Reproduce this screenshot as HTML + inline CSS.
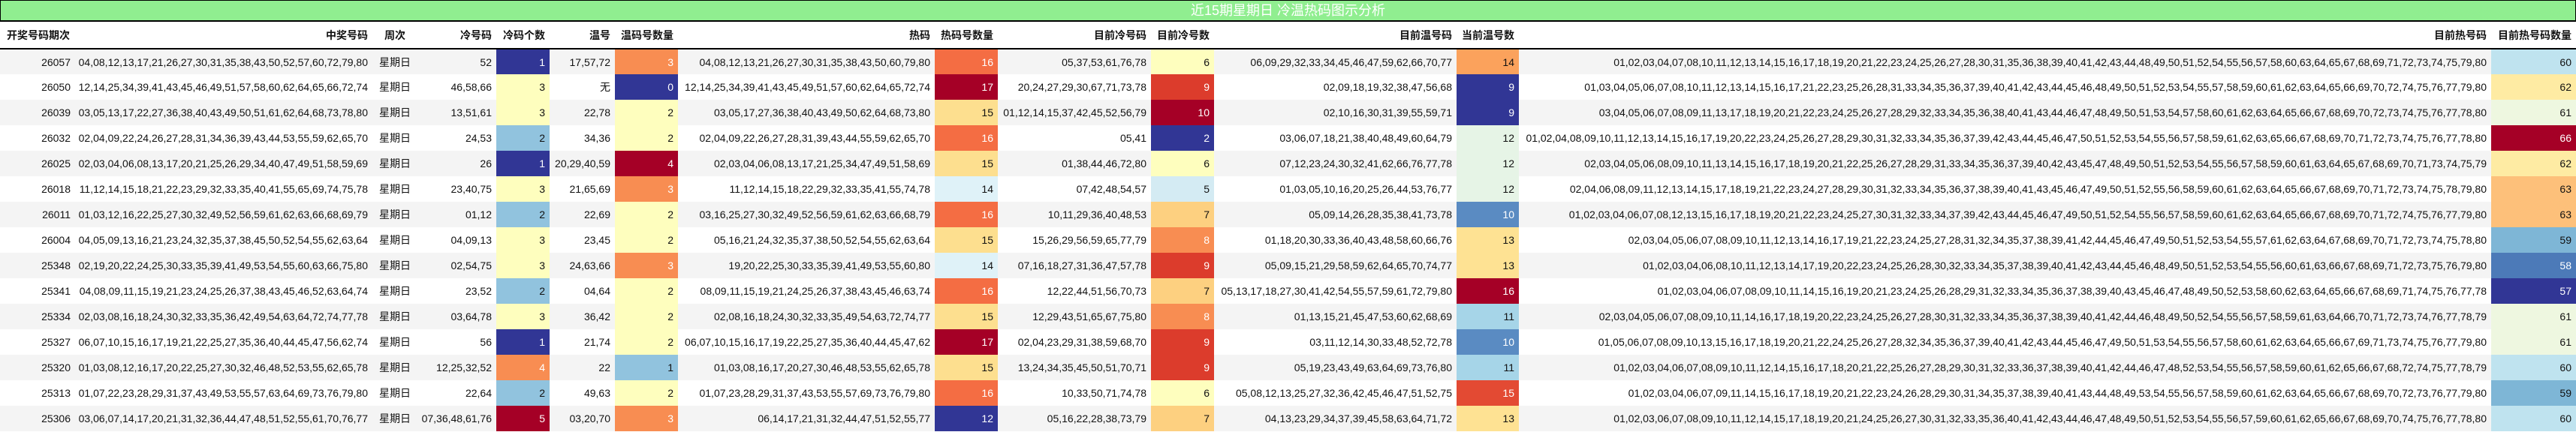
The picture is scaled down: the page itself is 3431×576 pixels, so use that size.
<!DOCTYPE html>
<html><head><meta charset="utf-8"><style>
*{margin:0;padding:0;box-sizing:border-box}
body{width:3431px;height:576px;background:#fff;font-family:"Liberation Sans","Noto Sans CJK SC",sans-serif;font-size:14px;color:#111;overflow:hidden}
.title{height:29px;background:#90ee90;border:1px solid #000;border-bottom:2px solid #000;color:#fff;text-align:center;font-size:18px;line-height:26px}
table{border-collapse:collapse;table-layout:fixed;width:3431px}
th{height:36px;font-weight:bold;text-align:right;padding-right:6px;border-bottom:2px solid #000;white-space:nowrap}
td{height:34px;text-align:right;padding-right:6px;white-space:nowrap;overflow:hidden}
tr:nth-child(odd) td{background:#f4f4f4}
tr:nth-child(even) td{background:#fff}
.l{text-align:left;padding-left:9px}.c{text-align:center;padding-right:0}
tr td.nv{background:#313695;color:#fff}
tr td.lb{background:#91c3de}
tr td.ly{background:#fefebe}
tr td.or{background:#f88d52;color:#fff}
tr td.dr{background:#a50026;color:#fff}
tr td.h14{background:#dff2f8}
tr td.h15{background:#fddf8f}
tr td.h16{background:#f46d43;color:#fff}
tr td.k5{background:#d4ebf3}
tr td.k7{background:#fdd080}
tr td.k9{background:#dc3c2c;color:#fff}
tr td.w10{background:#5a8bc2;color:#fff}
tr td.w11{background:#a6d5e8}
tr td.w12{background:#e6f4e6}
tr td.w13{background:#fee293}
tr td.w14{background:#fba25c}
tr td.w15{background:#e34a33;color:#fff}
tr td.t58{background:#4c7ab8;color:#fff}
tr td.t59{background:#7eb6d6}
tr td.t60{background:#bfe3ef}
tr td.t61{background:#eef7e0}
tr td.t62{background:#feeba3}
tr td.t63{background:#fdc07a}
</style></head><body>
<div class="title">近15期星期日 冷温热码图示分析</div>
<table>
<colgroup><col style="width:100px"><col style="width:396px"><col style="width:60px"><col style="width:105px"><col style="width:71px"><col style="width:87px"><col style="width:84px"><col style="width:342px"><col style="width:84px"><col style="width:204px"><col style="width:84px"><col style="width:323px"><col style="width:83px"><col style="width:1295px"><col style="width:113px"></colgroup>
<thead><tr><th class="l">开奖号码期次</th><th>中奖号码</th><th class="c">周次</th><th>冷号码</th><th>冷码个数</th><th>温号</th><th>温码号数量</th><th>热码</th><th>热码号数量</th><th>目前冷号码</th><th>目前冷号数</th><th>目前温号码</th><th>当前温号数</th><th>目前热号码</th><th>目前热号码数量</th></tr></thead>
<tbody>
<tr><td>26057</td><td>04,08,12,13,17,21,26,27,30,31,35,38,43,50,52,57,60,72,79,80</td><td class="c">星期日</td><td>52</td><td class="nv">1</td><td>17,57,72</td><td class="or">3</td><td>04,08,12,13,21,26,27,30,31,35,38,43,50,60,79,80</td><td class="h16">16</td><td>05,37,53,61,76,78</td><td class="ly">6</td><td>06,09,29,32,33,34,45,46,47,59,62,66,70,77</td><td class="w14">14</td><td>01,02,03,04,07,08,10,11,12,13,14,15,16,17,18,19,20,21,22,23,24,25,26,27,28,30,31,35,36,38,39,40,41,42,43,44,48,49,50,51,52,54,55,56,57,58,60,63,64,65,67,68,69,71,72,73,74,75,79,80</td><td class="t60">60</td></tr>
<tr><td>26050</td><td>12,14,25,34,39,41,43,45,46,49,51,57,58,60,62,64,65,66,72,74</td><td class="c">星期日</td><td>46,58,66</td><td class="ly">3</td><td>无</td><td class="nv">0</td><td>12,14,25,34,39,41,43,45,49,51,57,60,62,64,65,72,74</td><td class="dr">17</td><td>20,24,27,29,30,67,71,73,78</td><td class="k9">9</td><td>02,09,18,19,32,38,47,56,68</td><td class="nv">9</td><td>01,03,04,05,06,07,08,10,11,12,13,14,15,16,17,21,22,23,25,26,28,31,33,34,35,36,37,39,40,41,42,43,44,45,46,48,49,50,51,52,53,54,55,57,58,59,60,61,62,63,64,65,66,69,70,72,74,75,76,77,79,80</td><td class="t62">62</td></tr>
<tr><td>26039</td><td>03,05,13,17,22,27,36,38,40,43,49,50,51,61,62,64,68,73,78,80</td><td class="c">星期日</td><td>13,51,61</td><td class="ly">3</td><td>22,78</td><td class="ly">2</td><td>03,05,17,27,36,38,40,43,49,50,62,64,68,73,80</td><td class="h15">15</td><td>01,12,14,15,37,42,45,52,56,79</td><td class="dr">10</td><td>02,10,16,30,31,39,55,59,71</td><td class="nv">9</td><td>03,04,05,06,07,08,09,11,13,17,18,19,20,21,22,23,24,25,26,27,28,29,32,33,34,35,36,38,40,41,43,44,46,47,48,49,50,51,53,54,57,58,60,61,62,63,64,65,66,67,68,69,70,72,73,74,75,76,77,78,80</td><td class="t61">61</td></tr>
<tr><td>26032</td><td>02,04,09,22,24,26,27,28,31,34,36,39,43,44,53,55,59,62,65,70</td><td class="c">星期日</td><td>24,53</td><td class="lb">2</td><td>34,36</td><td class="ly">2</td><td>02,04,09,22,26,27,28,31,39,43,44,55,59,62,65,70</td><td class="h16">16</td><td>05,41</td><td class="nv">2</td><td>03,06,07,18,21,38,40,48,49,60,64,79</td><td class="w12">12</td><td>01,02,04,08,09,10,11,12,13,14,15,16,17,19,20,22,23,24,25,26,27,28,29,30,31,32,33,34,35,36,37,39,42,43,44,45,46,47,50,51,52,53,54,55,56,57,58,59,61,62,63,65,66,67,68,69,70,71,72,73,74,75,76,77,78,80</td><td class="dr">66</td></tr>
<tr><td>26025</td><td>02,03,04,06,08,13,17,20,21,25,26,29,34,40,47,49,51,58,59,69</td><td class="c">星期日</td><td>26</td><td class="nv">1</td><td>20,29,40,59</td><td class="dr">4</td><td>02,03,04,06,08,13,17,21,25,34,47,49,51,58,69</td><td class="h15">15</td><td>01,38,44,46,72,80</td><td class="ly">6</td><td>07,12,23,24,30,32,41,62,66,76,77,78</td><td class="w12">12</td><td>02,03,04,05,06,08,09,10,11,13,14,15,16,17,18,19,20,21,22,25,26,27,28,29,31,33,34,35,36,37,39,40,42,43,45,47,48,49,50,51,52,53,54,55,56,57,58,59,60,61,63,64,65,67,68,69,70,71,73,74,75,79</td><td class="t62">62</td></tr>
<tr><td>26018</td><td>11,12,14,15,18,21,22,23,29,32,33,35,40,41,55,65,69,74,75,78</td><td class="c">星期日</td><td>23,40,75</td><td class="ly">3</td><td>21,65,69</td><td class="or">3</td><td>11,12,14,15,18,22,29,32,33,35,41,55,74,78</td><td class="h14">14</td><td>07,42,48,54,57</td><td class="k5">5</td><td>01,03,05,10,16,20,25,26,44,53,76,77</td><td class="w12">12</td><td>02,04,06,08,09,11,12,13,14,15,17,18,19,21,22,23,24,27,28,29,30,31,32,33,34,35,36,37,38,39,40,41,43,45,46,47,49,50,51,52,55,56,58,59,60,61,62,63,64,65,66,67,68,69,70,71,72,73,74,75,78,79,80</td><td class="t63">63</td></tr>
<tr><td>26011</td><td>01,03,12,16,22,25,27,30,32,49,52,56,59,61,62,63,66,68,69,79</td><td class="c">星期日</td><td>01,12</td><td class="lb">2</td><td>22,69</td><td class="ly">2</td><td>03,16,25,27,30,32,49,52,56,59,61,62,63,66,68,79</td><td class="h16">16</td><td>10,11,29,36,40,48,53</td><td class="k7">7</td><td>05,09,14,26,28,35,38,41,73,78</td><td class="w10">10</td><td>01,02,03,04,06,07,08,12,13,15,16,17,18,19,20,21,22,23,24,25,27,30,31,32,33,34,37,39,42,43,44,45,46,47,49,50,51,52,54,55,56,57,58,59,60,61,62,63,64,65,66,67,68,69,70,71,72,74,75,76,77,79,80</td><td class="t63">63</td></tr>
<tr><td>26004</td><td>04,05,09,13,16,21,23,24,32,35,37,38,45,50,52,54,55,62,63,64</td><td class="c">星期日</td><td>04,09,13</td><td class="ly">3</td><td>23,45</td><td class="ly">2</td><td>05,16,21,24,32,35,37,38,50,52,54,55,62,63,64</td><td class="h15">15</td><td>15,26,29,56,59,65,77,79</td><td class="or">8</td><td>01,18,20,30,33,36,40,43,48,58,60,66,76</td><td class="w13">13</td><td>02,03,04,05,06,07,08,09,10,11,12,13,14,16,17,19,21,22,23,24,25,27,28,31,32,34,35,37,38,39,41,42,44,45,46,47,49,50,51,52,53,54,55,57,61,62,63,64,67,68,69,70,71,72,73,74,75,78,80</td><td class="t59">59</td></tr>
<tr><td>25348</td><td>02,19,20,22,24,25,30,33,35,39,41,49,53,54,55,60,63,66,75,80</td><td class="c">星期日</td><td>02,54,75</td><td class="ly">3</td><td>24,63,66</td><td class="or">3</td><td>19,20,22,25,30,33,35,39,41,49,53,55,60,80</td><td class="h14">14</td><td>07,16,18,27,31,36,47,57,78</td><td class="k9">9</td><td>05,09,15,21,29,58,59,62,64,65,70,74,77</td><td class="w13">13</td><td>01,02,03,04,06,08,10,11,12,13,14,17,19,20,22,23,24,25,26,28,30,32,33,34,35,37,38,39,40,41,42,43,44,45,46,48,49,50,51,52,53,54,55,56,60,61,63,66,67,68,69,71,72,73,75,76,79,80</td><td class="t58">58</td></tr>
<tr><td>25341</td><td>04,08,09,11,15,19,21,23,24,25,26,37,38,43,45,46,52,63,64,74</td><td class="c">星期日</td><td>23,52</td><td class="lb">2</td><td>04,64</td><td class="ly">2</td><td>08,09,11,15,19,21,24,25,26,37,38,43,45,46,63,74</td><td class="h16">16</td><td>12,22,44,51,56,70,73</td><td class="k7">7</td><td>05,13,17,18,27,30,41,42,54,55,57,59,61,72,79,80</td><td class="dr">16</td><td>01,02,03,04,06,07,08,09,10,11,14,15,16,19,20,21,23,24,25,26,28,29,31,32,33,34,35,36,37,38,39,40,43,45,46,47,48,49,50,52,53,58,60,62,63,64,65,66,67,68,69,71,74,75,76,77,78</td><td class="nv">57</td></tr>
<tr><td>25334</td><td>02,03,08,16,18,24,30,32,33,35,36,42,49,54,63,64,72,74,77,78</td><td class="c">星期日</td><td>03,64,78</td><td class="ly">3</td><td>36,42</td><td class="ly">2</td><td>02,08,16,18,24,30,32,33,35,49,54,63,72,74,77</td><td class="h15">15</td><td>12,29,43,51,65,67,75,80</td><td class="or">8</td><td>01,13,15,21,45,47,53,60,62,68,69</td><td class="w11">11</td><td>02,03,04,05,06,07,08,09,10,11,14,16,17,18,19,20,22,23,24,25,26,27,28,30,31,32,33,34,35,36,37,38,39,40,41,42,44,46,48,49,50,52,54,55,56,57,58,59,61,63,64,66,70,71,72,73,74,76,77,78,79</td><td class="t61">61</td></tr>
<tr><td>25327</td><td>06,07,10,15,16,17,19,21,22,25,27,35,36,40,44,45,47,56,62,74</td><td class="c">星期日</td><td>56</td><td class="nv">1</td><td>21,74</td><td class="ly">2</td><td>06,07,10,15,16,17,19,22,25,27,35,36,40,44,45,47,62</td><td class="dr">17</td><td>02,04,23,29,31,38,59,68,70</td><td class="k9">9</td><td>03,11,12,14,30,33,48,52,72,78</td><td class="w10">10</td><td>01,05,06,07,08,09,10,13,15,16,17,18,19,20,21,22,24,25,26,27,28,32,34,35,36,37,39,40,41,42,43,44,45,46,47,49,50,51,53,54,55,56,57,58,60,61,62,63,64,65,66,67,69,71,73,74,75,76,77,79,80</td><td class="t61">61</td></tr>
<tr><td>25320</td><td>01,03,08,12,16,17,20,22,25,27,30,32,46,48,52,53,55,62,65,78</td><td class="c">星期日</td><td>12,25,32,52</td><td class="or">4</td><td>22</td><td class="lb">1</td><td>01,03,08,16,17,20,27,30,46,48,53,55,62,65,78</td><td class="h15">15</td><td>13,24,34,35,45,50,51,70,71</td><td class="k9">9</td><td>05,19,23,43,49,63,64,69,73,76,80</td><td class="w11">11</td><td>01,02,03,04,06,07,08,09,10,11,12,14,15,16,17,18,20,21,22,25,26,27,28,29,30,31,32,33,36,37,38,39,40,41,42,44,46,47,48,52,53,54,55,56,57,58,59,60,61,62,65,66,67,68,72,74,75,77,78,79</td><td class="t60">60</td></tr>
<tr><td>25313</td><td>01,07,22,23,28,29,31,37,43,49,53,55,57,63,64,69,73,76,79,80</td><td class="c">星期日</td><td>22,64</td><td class="lb">2</td><td>49,63</td><td class="ly">2</td><td>01,07,23,28,29,31,37,43,53,55,57,69,73,76,79,80</td><td class="h16">16</td><td>10,33,50,71,74,78</td><td class="ly">6</td><td>05,08,12,13,25,27,32,36,42,45,46,47,51,52,75</td><td class="w15">15</td><td>01,02,03,04,06,07,09,11,14,15,16,17,18,19,20,21,22,23,24,26,28,29,30,31,34,35,37,38,39,40,41,43,44,48,49,53,54,55,56,57,58,59,60,61,62,63,64,65,66,67,68,69,70,72,73,76,77,79,80</td><td class="t59">59</td></tr>
<tr><td>25306</td><td>03,06,07,14,17,20,21,31,32,36,44,47,48,51,52,55,61,70,76,77</td><td class="c">星期日</td><td>07,36,48,61,76</td><td class="dr">5</td><td>03,20,70</td><td class="or">3</td><td>06,14,17,21,31,32,44,47,51,52,55,77</td><td class="nv">12</td><td>05,16,22,28,38,73,79</td><td class="k7">7</td><td>04,13,23,29,34,37,39,45,58,63,64,71,72</td><td class="w13">13</td><td>01,02,03,06,07,08,09,10,11,12,14,15,17,18,19,20,21,24,25,26,27,30,31,32,33,35,36,40,41,42,43,44,46,47,48,49,50,51,52,53,54,55,56,57,59,60,61,62,65,66,67,68,69,70,74,75,76,77,78,80</td><td class="t60">60</td></tr>
</tbody></table>
</body></html>
